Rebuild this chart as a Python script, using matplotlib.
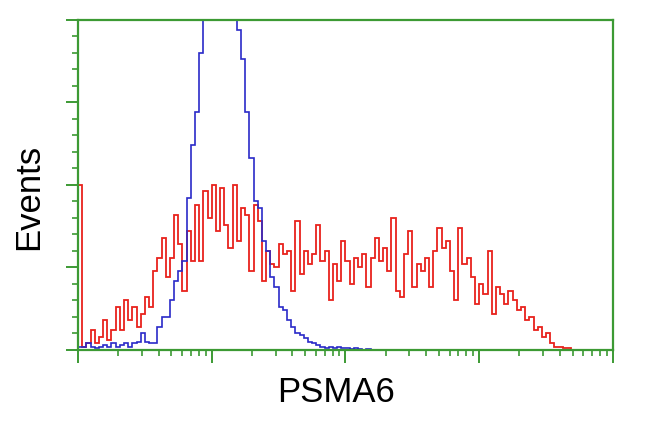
import numpy as np
import matplotlib.pyplot as plt
from matplotlib.ticker import MultipleLocator, LogLocator, NullFormatter

plt.rcParams['font.family'] = ['Liberation Sans', 'DejaVu Sans']

# 128 channels over 4 log decades
n_bins = 128
edges = np.logspace(0, 4, n_bins + 1)

# red: PSMA6 antibody stained
red_counts = [
    50, 1, 2, 6, 2, 4, 9, 3, 6, 13,
    6, 15, 9, 13, 7, 11, 16, 13, 24, 28,
    34, 22, 28, 41, 32, 18, 36, 27, 44, 27,
    48, 40, 50, 36, 49, 38, 31, 50, 33, 43,
    41, 24, 44, 39, 21, 30, 26, 25, 32, 29,
    30, 18, 39, 23, 30, 26, 29, 38, 27, 30,
    15, 26, 21, 33, 27, 20, 28, 25, 29, 19,
    28, 34, 27, 31, 24, 40, 18, 16, 29, 36,
    19, 26, 24, 28, 19, 30, 37, 31, 33, 24,
    15, 37, 26, 28, 22, 14, 20, 17, 30, 11,
    19, 17, 14, 18, 15, 12, 13, 9, 10, 6,
    7, 4, 5, 2, 1, 1, 0.5, 0.5, 0, 0,
    0, 0, 0, 0, 0, 0, 0, 0,
]

# blue: negative control
blue_counts = [
    1, 1, 2, 1, 0.5, 1, 1.5, 1, 2, 1,
    1.5, 2, 1, 2, 2.5, 5, 2.5, 2, 2, 7,
    10, 10, 15, 21, 24, 27, 46, 62, 72, 90,
    110, 125, 135, 140, 138, 130, 120, 108, 97, 88,
    72, 58, 45, 43, 33, 30, 22, 19, 13, 12,
    9, 7, 5, 4.5, 3.5, 2.5, 2, 1.5, 1, 0.5,
    1, 0.5, 1, 0.5, 0.5, 0.3, 0.5, 0.3, 0, 0.3,
    0, 0, 0, 0, 0, 0, 0, 0, 0, 0,
    0, 0, 0, 0, 0, 0, 0, 0, 0, 0,
    0, 0, 0, 0, 0, 0, 0, 0, 0, 0,
    0, 0, 0, 0, 0, 0, 0, 0, 0, 0,
    0, 0, 0, 0, 0, 0, 0, 0, 0, 0,
    0, 0, 0, 0, 0, 0, 0, 0,
]

x_label = 'PSMA6'
y_label = 'Events'

green = '#3c9a34'

fig = plt.figure(figsize=(6.5, 4.32), dpi=100)
ax = fig.add_axes([0.12, 0.19, 0.823, 0.764])

ax.stairs(red_counts, edges, color='#e8221c', linewidth=1.3)
ax.stairs(blue_counts, edges, color='#2a2ac8', linewidth=1.2)

ax.set_xscale('log')
ax.set_xlim(1, 1e4)
ax.set_ylim(0, 100)

# axis frame
for side in ['left', 'right', 'top', 'bottom']:
    ax.spines[side].set_color(green)
    ax.spines[side].set_linewidth(1.6)

ax.xaxis.set_major_locator(LogLocator(base=10, numticks=10))
ax.xaxis.set_minor_locator(LogLocator(base=10, subs=np.arange(2, 10), numticks=10))
ax.xaxis.set_major_formatter(NullFormatter())
ax.xaxis.set_minor_formatter(NullFormatter())
ax.yaxis.set_major_locator(MultipleLocator(25))
ax.yaxis.set_minor_locator(MultipleLocator(5))
ax.yaxis.set_major_formatter(NullFormatter())

ax.tick_params(axis='both', which='major', direction='out', length=9,
               width=1.4, color=green)
ax.tick_params(axis='both', which='minor', direction='out', length=4.5,
               width=1.2, color=green)
ax.tick_params(top=False, right=False, which='both')

ax.set_xlabel(x_label, fontsize=25)
ax.set_ylabel(y_label, fontsize=25)
ax.xaxis.set_label_coords(0.482, -0.079)
ax.yaxis.set_label_coords(-0.062, 0.464)

plt.savefig('out.png', dpi=100)
